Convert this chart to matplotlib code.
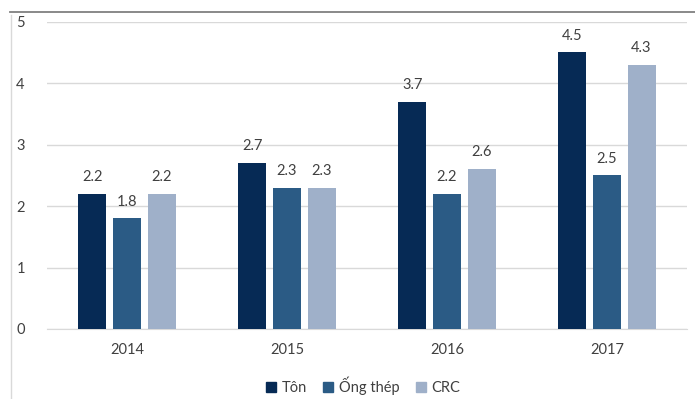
import matplotlib
matplotlib.use("Agg")
import matplotlib.pyplot as plt
import numpy as np
from matplotlib.lines import Line2D
from matplotlib.patches import Rectangle

plt.rcParams['font.family'] = ['Lato', 'DejaVu Sans']

years = ["2014", "2015", "2016", "2017"]
series_names = ["Tôn", "Ống thép", "CRC"]
ton = [2.2, 2.7, 3.7, 4.5]
ong_thep = [1.8, 2.3, 2.2, 2.5]
crc = [2.2, 2.3, 2.6, 4.3]
colors = ["#062a55", "#2b5b85", "#9fb0c9"]

fig = plt.figure(figsize=(6.95, 3.99), dpi=100)
ax = fig.add_axes([47 / 695, (399 - 329) / 399, 640 / 695, (329 - 21.7) / 399])

x = np.arange(len(years))
width = 0.175
step = 0.216
text_color = "#404040"

for i, (vals, col, name) in enumerate(zip([ton, ong_thep, crc], colors, series_names)):
    pos = x + (i - 1) * step
    bars = ax.bar(pos, vals, width=width, color=col, label=name, zorder=3)
    for b, v in zip(bars, vals):
        ax.annotate(f"{v:.1f}", (b.get_x() + b.get_width() / 2, v),
                    xytext=(0, 7), textcoords="offset points",
                    ha="center", va="bottom", fontsize=10.5, color=text_color)

ax.set_xlim(-0.5, len(years) - 0.5)
ax.set_ylim(0, 5)
ax.set_yticks(range(0, 6))
ax.set_xticks(x)
ax.set_xticklabels(years)
ax.yaxis.grid(True, color="#d9d9d9", linewidth=1, zorder=0)
ax.set_axisbelow(True)
for s in ["top", "right", "left"]:
    ax.spines[s].set_visible(False)
ax.spines["bottom"].set_color("#d9d9d9")
ax.tick_params(axis="both", length=0, labelsize=10.5, labelcolor=text_color)
ax.tick_params(axis="y", pad=16)
ax.tick_params(axis="x", pad=10)

# white band above the frame line (hides the top of the "5" label)
fig.add_artist(Rectangle((0, 1 - 15 / 399), 1, 15 / 399, transform=fig.transFigure,
                         facecolor="white", edgecolor="none", zorder=10))
# frame lines around the chart area
fig.add_artist(Line2D([10 / 695, 1], [1 - 12 / 399, 1 - 12 / 399],
                      transform=fig.transFigure, color="#808080", linewidth=1.3, zorder=11))
fig.add_artist(Line2D([11 / 695, 11 / 695], [0, 1 - 15 / 399],
                      transform=fig.transFigure, color="#d9d9d9", linewidth=1, zorder=11))

handles = [plt.Line2D([], [], marker="s", linestyle="", markersize=7,
                      color=c) for c in colors]
fig.legend(handles, series_names, loc="center", bbox_to_anchor=(362 / 695, 1 - 386 / 399),
           ncol=3, frameon=False, fontsize=10.5, handletextpad=0.2,
           columnspacing=1.0, labelcolor=text_color, handlelength=1.0)

fig.savefig("out.png", dpi=100)
